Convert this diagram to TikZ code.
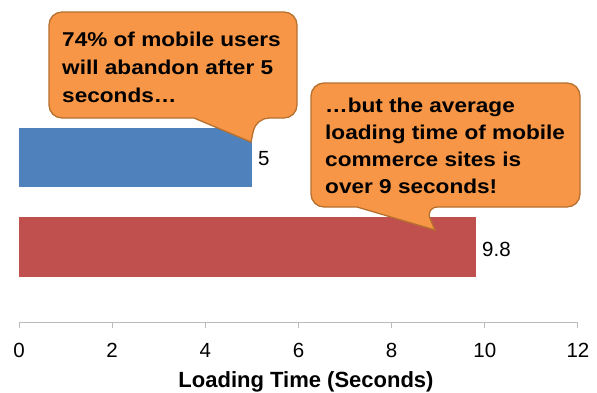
\documentclass[tikz,border=0pt]{standalone}
\usepackage{fontspec}
\setmainfont{Liberation Sans}
\newfontfamily\callfont[FakeStretch=1.13]{Liberation Sans}
\definecolor{calloutfill}{HTML}{F79646}
\definecolor{calloutdraw}{HTML}{B8702F}
\definecolor{barblue}{HTML}{4F81BD}
\definecolor{barred}{HTML}{C0504D}
\definecolor{axisgray}{HTML}{BBBBBB}
\begin{document}
\begin{tikzpicture}[x=1pt,y=-1pt,
  calloutbox/.style={fill=calloutfill,draw=calloutdraw,line width=1.3pt,rounded corners=13pt},
  calltext/.style={anchor=base west,inner sep=0pt,font=\callfont\bfseries\fontsize{20}{24}\selectfont},
  ticklabel/.style={anchor=center,inner sep=0pt,font=\fontsize{20.5}{24}\selectfont},
  vallabel/.style={anchor=west,inner sep=0pt,font=\fontsize{20.5}{24}\selectfont},
  barblock/.style={draw=white,line width=0.6pt}]
\useasboundingbox (0,0) rectangle (597,392);
% bars
\fill[barblue] (19,128) rectangle (252,187);
\fill[barred] (19,217) rectangle (476,277);
\node[vallabel] (v1) at (258,159) {5};
\node[vallabel] (v2) at (482,249) {9.8};
% axis
\draw[axisgray,line width=1pt] (19,322) -- (578,322);
\foreach \i in {0,2,...,12}{
  \draw[axisgray,line width=1pt] ({19+46.58*\i},322) -- ({19+46.58*\i},328);
  \node[ticklabel] (t\i) at ({19+46.58*\i},350) {\i};
}
\node[anchor=base,inner sep=0pt,font=\bfseries\fontsize{22}{26}\selectfont] (title) at (306,387) {Loading Time (Seconds)};
% callout 1
\draw[calloutbox] (49,12) -- (297,12) -- (297,118) -- (256,118)
  [sharp corners] -- (251,142) -- (194,118) [rounded corners=13pt] -- (49,118) -- cycle;
\node[calltext] (c1a) at (62,46) {74\% of mobile users};
\node[calltext] (c1b) at (62,74) {will abandon after 5};
\node[calltext] (c1c) at (62,102) {seconds…};
% callout 2
\draw[calloutbox] (311,83) -- (580,83) -- (580,207) -- (425,207)
  [sharp corners] -- (435,230) -- (357,207) [rounded corners=13pt] -- (311,207) -- cycle;
\node[calltext] (c2a) at (325,112) {…but the average};
\node[calltext] (c2b) at (325,139) {loading time of mobile};
\node[calltext] (c2c) at (325,166) {commerce sites is};
\node[calltext] (c2d) at (325,193) {over 9 seconds!};
\end{tikzpicture}
\end{document}
